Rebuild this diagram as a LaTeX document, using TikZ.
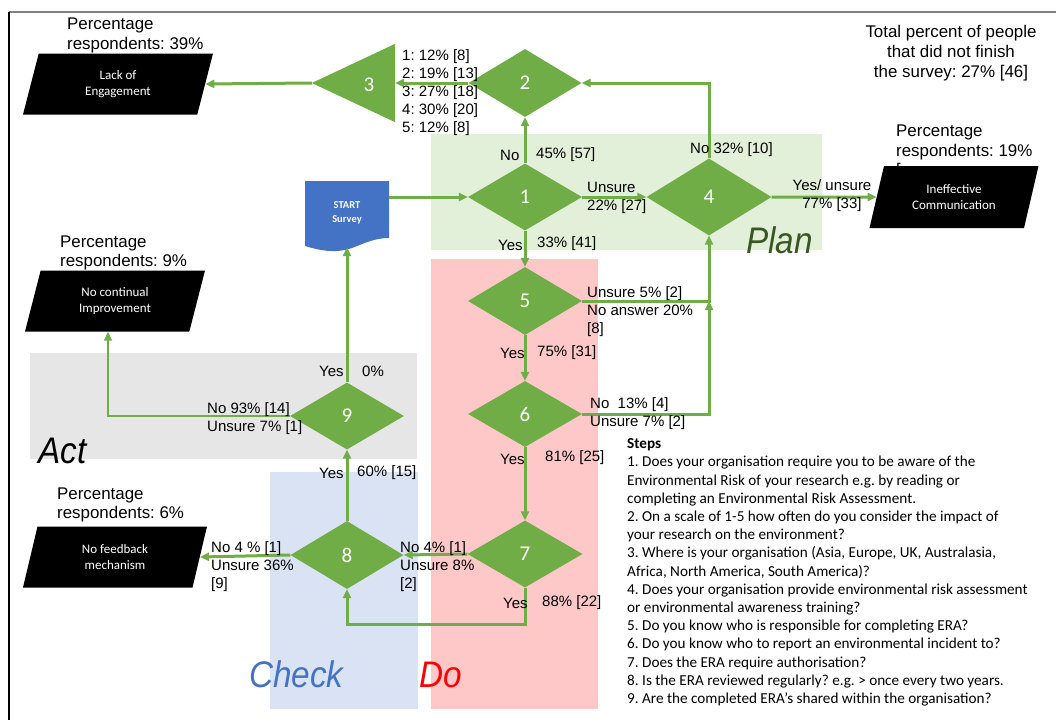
\documentclass[tikz,border=0pt]{standalone}
\usepackage{fontspec}
\setmainfont{Liberation Sans}
\newfontfamily\calibri{Carlito}
\usepackage{tikz}
\usetikzlibrary{arrows.meta,shapes.geometric}
\definecolor{qgreen}{HTML}{70AD47}
\definecolor{docblue}{HTML}{4472C4}
\definecolor{planbg}{HTML}{E2F0D9}
\definecolor{dobg}{HTML}{FFC8C8}
\definecolor{actbg}{HTML}{E7E6E6}
\definecolor{checkbg}{HTML}{DAE3F3}
\definecolor{plantext}{HTML}{385723}
\frenchspacing

\begin{document}
\begin{tikzpicture}[x=1pt, y=-1pt,
    q/.style={diamond, fill=qgreen, text=white, inner sep=0pt, font=\calibri\fontsize{21}{21}\selectfont},
    outcome/.style={trapezium, trapezium left angle=60, trapezium right angle=120, trapezium stretches body,
        fill=black, text=white, align=center, minimum height=61, inner sep=0pt, font=\calibri\fontsize{13}{16}\selectfont},
    flow/.style={draw=qgreen, line width=3pt, -{Triangle[length=9pt,width=8pt]}},
    txt/.style={anchor=west, inner sep=0pt, align=left, font=\fontsize{15}{18}\selectfont},
    big/.style={anchor=west, inner sep=0pt, align=left, font=\fontsize{16.9}{19.8}\selectfont},
    phase/.style={anchor=base west, inner sep=0pt, font=\itshape\fontsize{37}{37}\selectfont}]
    \useasboundingbox (0,0) rectangle (1056,720);
    % frame
    \draw[black!50, line width=1.5pt] (9,12) -- (1056,12);
    \draw[black, line width=1.5pt] (9,12) -- (9,720);

    % PDCA zones
    \fill[planbg] (431,134) rectangle (822,250);
    \fill[dobg] (431,259) rectangle (598,709);
    \fill[actbg] (30,353) rectangle (417,459);
    \fill[checkbg] (270,472) rectangle (418,709);
    \node[phase, text=plantext] (plan) at (746,253) {\scalebox{0.9}[1]{Plan}};
    \node[phase, text=red] (do) at (419,687) {\scalebox{0.9}[1]{Do}};
    \node[phase, text=docblue] (check) at (249,687) {\scalebox{0.9}[1]{Check}};
    \node[phase, text=black] (act) at (38,463) {\scalebox{0.9}[1]{Act}};

    % start
    \fill[docblue] (305,181) -- (389,181) -- (389,238) .. controls (375,238) and (365,243) .. (352,248)
        .. controls (335,254) and (318,250) .. (305,246) -- cycle;
    \node[minimum width=84, minimum height=69, inner sep=0pt, text=white, align=center,
        font=\calibri\bfseries\fontsize{10.5}{14}\selectfont] (start) at (347,212.5) {START\\Survey};

    % questions
    \node[q, minimum width=114, minimum height=67] (d1) at (525,197) {1};
    \node[q, minimum width=113, minimum height=68] (d2) at (525,83) {2};
    \node[q, minimum width=125, minimum height=77] (d4) at (709,197) {4};
    \node[q, minimum width=114, minimum height=68] (d5) at (525,301) {5};
    \node[q, minimum width=114, minimum height=66] (d6) at (525,414) {6};
    \node[q, minimum width=115, minimum height=67] (d7) at (525,554) {7};
    \node[q, minimum width=113, minimum height=68] (d8) at (347,555) {8};
    \node[q, minimum width=114, minimum height=67] (d9) at (347,416) {9};
    \node[minimum width=83, minimum height=78, inner sep=0pt] (t3) at (353.5,83) {};
    \fill[qgreen] (t3.west) -- (t3.north east) -- (t3.south east) -- cycle;
    \node[text=white, inner sep=0pt, font=\calibri\fontsize{21}{21}\selectfont] (t3num) at (369,85) {3};

    % outcomes
    \node[big] (p39) at (67,35.5) {Percentage\\respondents: 39\%};
    \node[big] (p19) at (896,152) {Percentage\\respondents: 19\%\\{[}};
    \node[big] (p9) at (60,253) {Percentage\\respondents: 9\%};
    \node[big] (p6) at (57,505) {Percentage\\respondents: 6\%};
    \node[big, anchor=center, align=center] (total) at (951,53) {Total percent of people\\that did not finish\\the survey: 27\% [46]};
    \node[outcome, minimum width=190] (lack) at (118,84) {Lack of\\Engagement};
    \node[outcome, minimum width=180] (improve) at (115,301) {No continual\\Improvement};
    \node[outcome, minimum width=184] (feedback) at (115,557) {No feedback\\mechanism};
    \node[outcome, minimum width=169, minimum height=62] (comm) at (954,197) {Ineffective\\Communication};

    % connectors
    \coordinate (j5) at (d5.east -| d4.south);
    \coordinate (loop) at (525,624);
    \draw[flow] (start.east |- d1.west) -- (d1.west);
    \draw[flow] (d1.north) -- (d2.south);
    \draw[flow] (d1.east) -- (d4.west);
    \draw[flow] (d4.north) |- (d2.east);
    \draw[flow] (d2.west) -- (t3.east);
    \draw[flow] (t3.west) -- (lack.east);
    \draw[flow] (d4.east) -- (comm.west);
    \draw[flow] (d1.south) -- (d5.north);
    \draw[flow] (d5.east) -| (d4.south);
    \draw[flow] (d6.east) -| (j5);
    \draw[flow] (d5.south) -- (d6.north);
    \draw[flow] (d6.south) -- (d7.north);
    \draw[flow] (d7.west) -- (d8.east);
    \draw[flow] (d7.south) -- (loop) -| (d8.south);
    \draw[flow] (d8.west) -- (feedback.east);
    \draw[flow] (d8.north) -- (d9.south);
    \draw[flow] (d9.north) -- (start.south);
    \draw[flow, line width=2pt] (d9.west) -| ([xshift=-7pt]improve.south);

    % answers
    \node[txt] (scale) at (402,93) {1: 12\% [8]\\2: 19\% [13]\\3: 27\% [18]\\4: 30\% [20]\\5: 12\% [8]};
    \node[txt] (a1no) at (500,155) {No};
    \node[txt] (a1nop) at (536,155) {45\% [57]};
    \node[txt] (a1un) at (587,197.5) {Unsure\\22\% [27]};
    \node[txt] (a1yes) at (498,245) {Yes};
    \node[txt] (a1yesp) at (537,244) {33\% [41]};
    \node[txt] (a4no) at (690,150) {No 32\% [10]};
    \node[txt, anchor=center, align=center] (a4yes) at (832,196) {Yes/ unsure\\77\% [33]};
    \node[txt] (a5un) at (587,312) {Unsure 5\% [2]\\No answer 20\%\\{[8]}};
    \node[txt] (a5yes) at (500,353) {Yes};
    \node[txt] (a5yesp) at (537,353) {75\% [31]};
    \node[txt] (a6no) at (590,414) {No~~13\% [4]\\Unsure 7\% [2]};
    \node[txt] (a6yes) at (500,459) {Yes};
    \node[txt] (a6yesp) at (545,458) {81\% [25]};
    \node[txt] (a7no) at (400,566.5) {No 4\% [1]\\Unsure 8\%\\{[2]}};
    \node[txt] (a7yes) at (503,603) {Yes};
    \node[txt] (a7yesp) at (542,603) {88\% [22]};
    \node[txt] (a8no) at (211,566.5) {No 4 \% [1]\\Unsure 36\%\\{[9]}};
    \node[txt] (a8yes) at (319,473) {Yes};
    \node[txt] (a8yesp) at (357,473) {60\% [15]};
    \node[txt] (a9no) at (207,418.5) {No 93\% [14]\\Unsure 7\% [1]};
    \node[txt] (a9yes) at (319,371) {Yes};
    \node[txt] (a9yesp) at (362,371) {0\%};

    % key
    \node[anchor=north west, inner sep=0pt, align=left, font=\calibri\fontsize{15.2}{18.2}\selectfont] (steps) at (627,438.5) {%
        {\bfseries Steps}\\
        1. Does your organisation require you to be aware of the\\
        Environmental Risk of your research e.g. by reading or\\
        completing an Environmental Risk Assessment.\\
        2. On a scale of 1-5 how often do you consider the impact of\\
        your research on the environment?\\
        3. Where is your organisation (Asia, Europe, UK, Australasia,\\
        Africa, North America, South America)?\\
        4. Does your organisation provide environmental risk assessment\\
        or environmental awareness training?\\
        5. Do you know who is responsible for completing ERA?\\
        6. Do you know who to report an environmental incident to?\\
        7. Does the ERA require authorisation?\\
        8. Is the ERA reviewed regularly? e.g. > once every two years.\\
        9. Are the completed ERA’s shared within the organisation?};
\end{tikzpicture}
\end{document}
